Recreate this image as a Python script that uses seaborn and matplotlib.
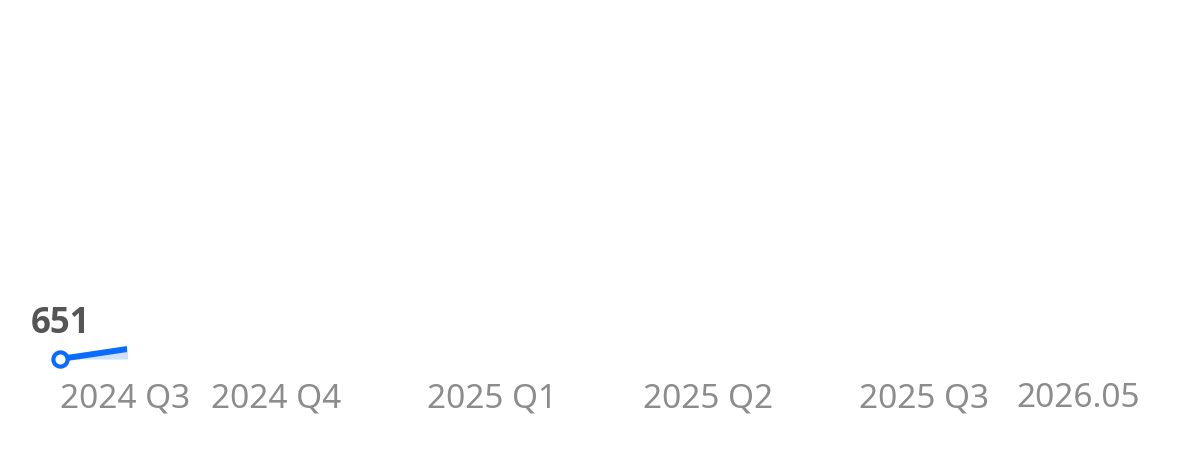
import numpy as np
import pandas as pd
import matplotlib
matplotlib.use("Agg")
import matplotlib.pyplot as plt
from matplotlib.patches import Rectangle
import seaborn as sns

# ---- data ----
categories = ["2024 Q3", "2024 Q4", "2025 Q1", "2025 Q2", "2025 Q3", "2026.05"]
values = [651, 712, np.nan, np.nan, np.nan, np.nan]
first_label = "651"
reveal_fraction = 0.31   # portion of the series revealed (animation frame)

sns.set_theme(style="white")
plt.rcParams['font.family'] = ['Noto Sans', 'DejaVu Sans']

LINE = "#0a6cff"
FILL = "#cfe2fd"

fig = plt.figure(figsize=(12, 4.6), dpi=100)
ax = fig.add_axes([0.05, 100 / 460, 0.90, 330 / 460])

df = pd.DataFrame({"x": np.arange(len(categories)), "y": values})
dfv = df.dropna()

clip = Rectangle((-1, 0), 1 + reveal_fraction, 10000, transform=ax.transData)

sns.lineplot(data=dfv, x="x", y="y", ax=ax, color=LINE, linewidth=4.3,
             solid_capstyle="butt")
line = ax.lines[-1]
line.set_clip_path(clip)

fb = ax.fill_between(dfv["x"], dfv["y"], values[0], color=FILL, linewidth=0)
fb.set_clip_path(clip)
line.set_zorder(3)

sns.scatterplot(x=[0], y=[values[0]], ax=ax, s=105, marker="o",
                facecolor="white", edgecolor=LINE, linewidth=3.0,
                zorder=5, clip_on=False)

ax.annotate(first_label, xy=(0, values[0]), xytext=(0, 13),
            textcoords="offset points", ha="center", va="bottom",
            fontsize=25, fontweight="bold", color="#555555",
            family=["Open Sans", "Lato", "DejaVu Sans"],
            annotation_clip=False)

ax.set_xlim(0, len(categories) - 1)
ax.set_ylim(651, 1280)
ax.set_xticks(df["x"])
ax.set_xticklabels(categories)
for i, t in enumerate(ax.get_xticklabels()):
    t.set_color("#8c8c8c")
    t.set_fontsize(24)
    if i == 0:
        t.set_ha("left")
    elif i == len(categories) - 1:
        t.set_ha("right")
    else:
        t.set_ha("center")
ax.tick_params(axis="x", length=0, pad=16)
ax.set_yticks([])
ax.set_xlabel("")
ax.set_ylabel("")
for s in ax.spines.values():
    s.set_visible(False)
ax.set_facecolor("white")

fig.savefig("out.png", dpi=100, facecolor="white")
